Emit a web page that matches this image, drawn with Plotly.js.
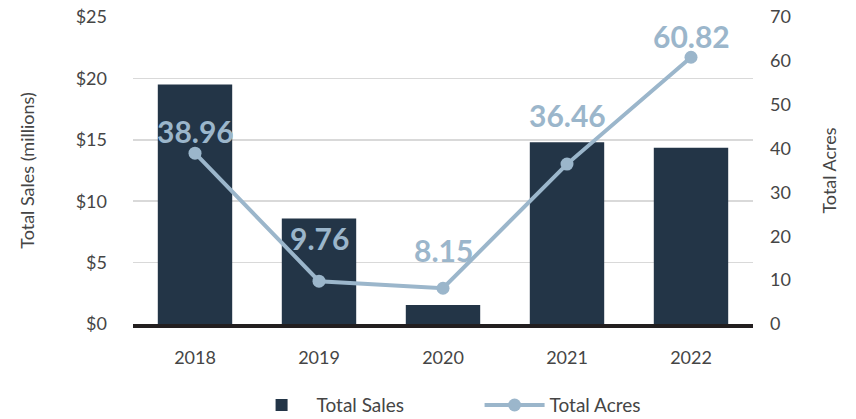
<!DOCTYPE html>
<html>
<head>
<meta charset="utf-8">
<script src="https://cdn.plot.ly/plotly-3.0.1.min.js"></script>
<style>
  html, body { margin: 0; padding: 0; background: #fff; }
  #chart { width: 856px; height: 419px; }
</style>
</head>
<body>
<div id="chart"></div>
<script>
// chart values
const years = ['2018', '2019', '2020', '2021', '2022'];
const totalSales = [19.5, 8.6, 1.55, 14.8, 14.35];   // $ millions
const totalAcres = [38.96, 9.76, 8.15, 36.46, 60.82];
const acreLabels = ['38.96', '9.76', '8.15', '36.46', '60.82'];

const barColor = '#233547';
const lineColor = '#9bb6cb';
const textColor = '#454545';

// how far each value label sits above its point (px)
const labelLift = [22, 43, 38, 49, 21];

var salesTrace = {
  x: years,
  y: totalSales,
  name: 'Total Sales',
  type: 'bar',
  width: 0.6,
  marker: { color: barColor },
  hoverinfo: 'skip'
};

var acresTrace = {
  x: years,
  y: totalAcres,
  name: 'Total Acres',
  yaxis: 'y2',
  type: 'scatter',
  mode: 'lines+markers',
  line: { color: lineColor, width: 4 },
  marker: { color: lineColor, size: 13 },
  hoverinfo: 'skip'
};

// value labels, placed by category index so they are not read as numbers
var labels = years.map(function(yr, i) {
  return {
    x: i,
    y: totalAcres[i],
    xref: 'x',
    yref: 'y2',
    text: '<b>' + acreLabels[i] + '</b>',
    showarrow: false,
    yanchor: 'middle',
    yshift: labelLift[i],
    font: { family: 'Lato, sans-serif', size: 30, color: lineColor }
  };
});

const plain = { family: 'Lato, sans-serif', size: 18, color: textColor };

var layout = {
  width: 856,
  height: 419,
  margin: { l: 133, r: 103, t: 17, b: 95, autoexpand: false },
  paper_bgcolor: '#fff',
  plot_bgcolor: '#fff',
  font: plain,
  showlegend: true,
  legend: {
    orientation: 'h',
    x: 0.559,
    xanchor: 'center',
    yref: 'container',
    y: 0.033,
    yanchor: 'middle',
    font: { family: 'Lato, sans-serif', size: 19, color: textColor },
    entrywidth: 158,
    itemwidth: 60,
    tracegroupgap: 0
  },
  xaxis: {
    type: 'category',
    range: [-0.5, 4.5],
    automargin: false,
    showgrid: false,
    showline: true,
    linecolor: '#231f20',
    linewidth: 4,
    ticks: '',
    ticklabelstandoff: 14,
    tickfont: plain,
    fixedrange: true
  },
  yaxis: {
    range: [0, 25],
    dtick: 5,
    tickprefix: '$',
    automargin: false,
    showgrid: true,
    gridcolor: '#d9d9d9',
    gridwidth: 1.5,
    zeroline: false,
    showline: false,
    ticks: '',
    ticklabelstandoff: 25,
    tickfont: plain,
    title: { text: 'Total Sales (millions)', font: plain, standoff: 36 }
  },
  yaxis2: {
    range: [0, 70],
    dtick: 10,
    overlaying: 'y',
    side: 'right',
    automargin: false,
    showgrid: false,
    zeroline: false,
    showline: false,
    ticks: '',
    ticklabelstandoff: 16,
    tickfont: plain,
    title: { text: 'Total Acres', font: plain, standoff: 33 }
  },
  annotations: labels
};

Plotly.newPlot('chart', [salesTrace, acresTrace], layout, { displayModeBar: false, staticPlot: true });
</script>
</body>
</html>
